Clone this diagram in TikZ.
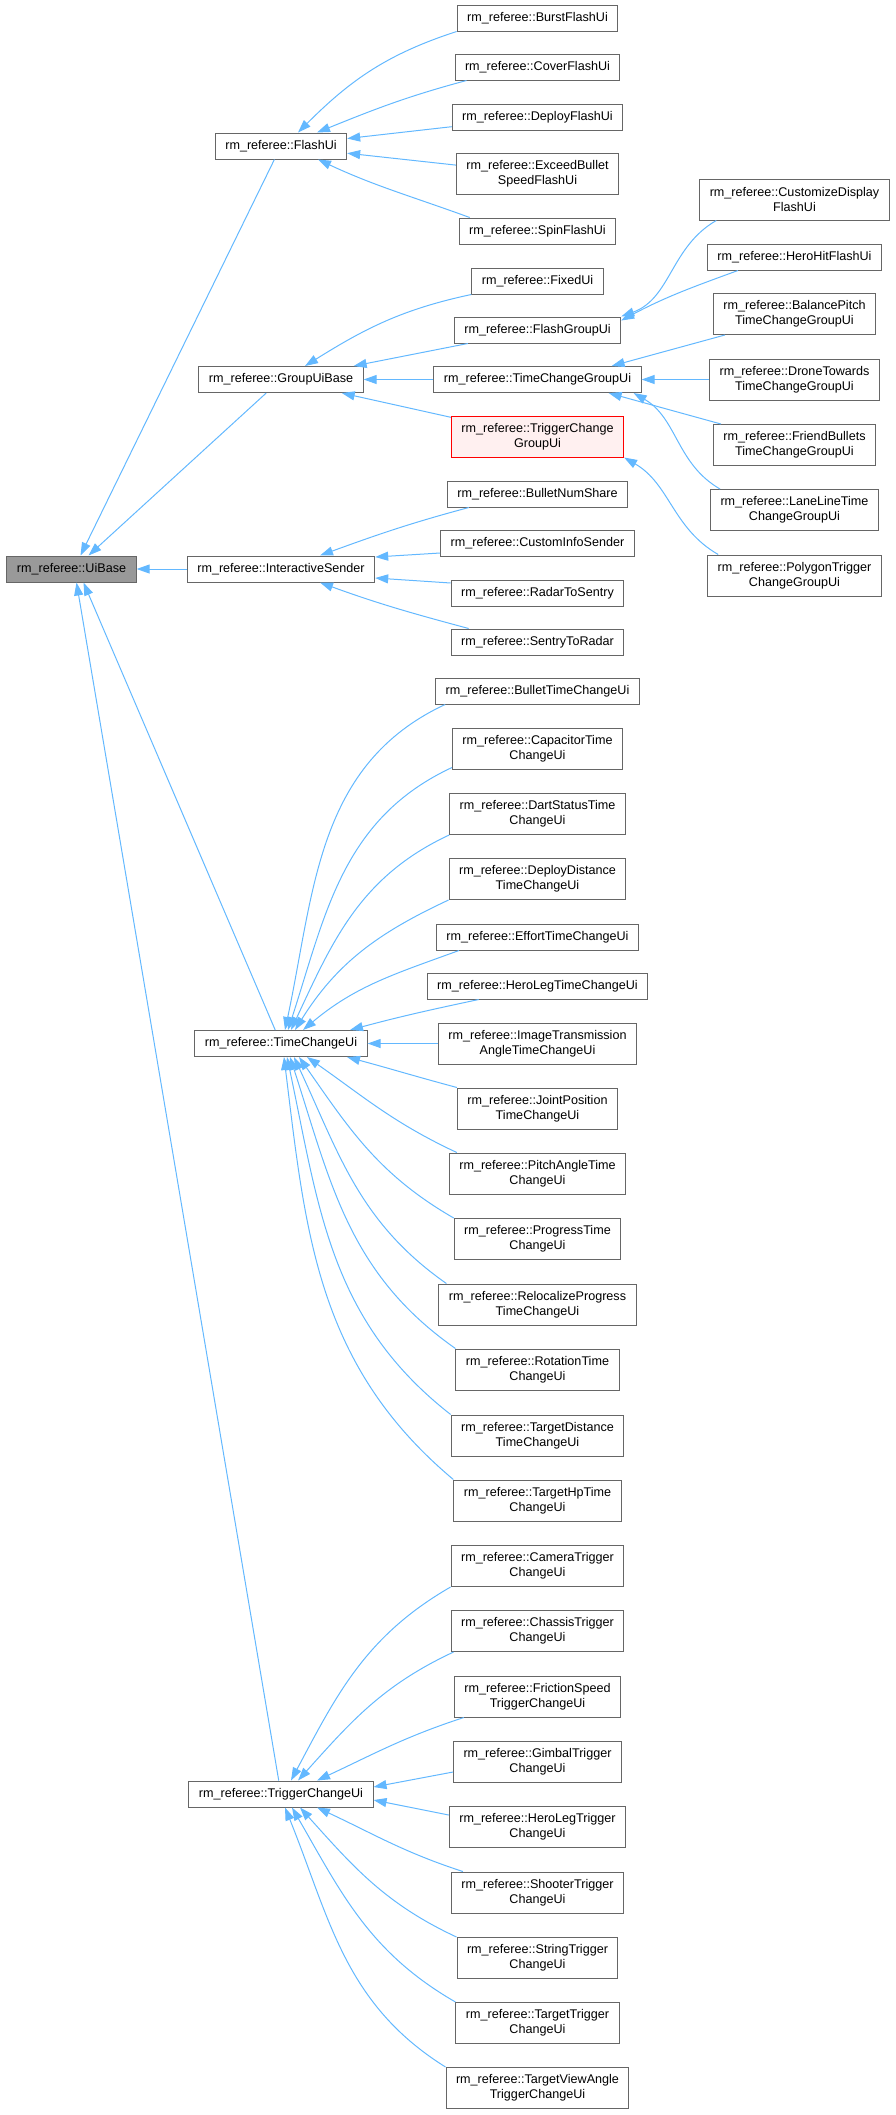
\documentclass[tikz,border=0pt]{standalone}
\usepackage{fontspec}
\setmainfont{Liberation Sans}
\usetikzlibrary{arrows.meta, positioning}
\definecolor{edgeblue}{RGB}{99,184,255}
\definecolor{boxgray}{RGB}{102,102,102}
\definecolor{basegray}{RGB}{153,153,153}
\definecolor{hilitered}{RGB}{255,0,0}
\definecolor{hilitefill}{RGB}{255,240,240}

\begin{document}
\begin{tikzpicture}[x=1pt, y=1pt,
    cls/.style={rectangle, draw=boxgray, fill=white, line width=1pt,
        inner xsep=10pt, inner ysep=2pt, minimum height=26pt, align=center,
        font=\fontsize{12.6}{15}\selectfont},
    cls2/.style={cls, minimum height=41pt},
    hilite/.style={draw=hilitered, fill=hilitefill},
    inh/.style={-{Triangle[length=13pt, width=9pt]}, edgeblue, line width=1pt}
]
\useasboundingbox (0,0) rectangle (896,-2115);

% Base class
\node[cls, fill=basegray] (ub) at (71.5,-569) {rm\_referee::UiBase};

% First level
\node[cls] (flash) at (281,-146) {rm\_referee::FlashUi};
\node[cls] (gub) at (281,-379.5) {rm\_referee::GroupUiBase};
\node[cls] (isend) at (281,-569) {rm\_referee::InteractiveSender};
\node[cls] (tcu) at (281,-1043.5) {rm\_referee::TimeChangeUi};
\node[cls] (tgu) at (281,-1794) {rm\_referee::TriggerChangeUi};

% Second level: flash and group classes
\node[cls] (burst) at (537.5,-18) {rm\_referee::BurstFlashUi};
\node[cls] (cover) at (537.5,-67) {rm\_referee::CoverFlashUi};
\node[cls] (deploy) at (537.5,-117) {rm\_referee::DeployFlashUi};
\node[cls2] (exceed) at (537.5,-174) {rm\_referee::ExceedBullet\\SpeedFlashUi};
\node[cls] (spin) at (537.5,-231) {rm\_referee::SpinFlashUi};
\node[cls] (fixed) at (537.5,-281) {rm\_referee::FixedUi};
\node[cls] (fgroup) at (537.5,-330) {rm\_referee::FlashGroupUi};
\node[cls] (tcgroup) at (537.5,-379.5) {rm\_referee::TimeChangeGroupUi};
\node[cls2, hilite] (tggroup) at (537.5,-436.5) {rm\_referee::TriggerChange\\GroupUi};

% Second level: senders
\node[cls] (bns) at (537.5,-494) {rm\_referee::BulletNumShare};
\node[cls] (cis) at (537.5,-543) {rm\_referee::CustomInfoSender};
\node[cls] (r2s) at (537.5,-593) {rm\_referee::RadarToSentry};
\node[cls] (s2r) at (537.5,-642) {rm\_referee::SentryToRadar};

% Second level: time change classes
\node[cls] (tcBullet) at (537.5,-691) {rm\_referee::BulletTimeChangeUi};
\node[cls2] (tcCap) at (537.5,-748.5) {rm\_referee::CapacitorTime\\ChangeUi};
\node[cls2] (tcDart) at (537.5,-814) {rm\_referee::DartStatusTime\\ChangeUi};
\node[cls2] (tcDeploy) at (537.5,-879) {rm\_referee::DeployDistance\\TimeChangeUi};
\node[cls] (tcEffort) at (537.5,-937) {rm\_referee::EffortTimeChangeUi};
\node[cls] (tcHero) at (537.5,-986) {rm\_referee::HeroLegTimeChangeUi};
\node[cls2] (tcImage) at (537.5,-1043.5) {rm\_referee::ImageTransmission\\AngleTimeChangeUi};
\node[cls2] (tcJoint) at (537.5,-1108.5) {rm\_referee::JointPosition\\TimeChangeUi};
\node[cls2] (tcPitch) at (537.5,-1173.5) {rm\_referee::PitchAngleTime\\ChangeUi};
\node[cls2] (tcProg) at (537.5,-1239) {rm\_referee::ProgressTime\\ChangeUi};
\node[cls2] (tcReloc) at (537.5,-1304.5) {rm\_referee::RelocalizeProgress\\TimeChangeUi};
\node[cls2] (tcRot) at (537.5,-1369.5) {rm\_referee::RotationTime\\ChangeUi};
\node[cls2] (tcDist) at (537.5,-1435.5) {rm\_referee::TargetDistance\\TimeChangeUi};
\node[cls2] (tcHp) at (537.5,-1500.5) {rm\_referee::TargetHpTime\\ChangeUi};

% Second level: trigger change classes
\node[cls2] (tgCam) at (537.5,-1566) {rm\_referee::CameraTrigger\\ChangeUi};
\node[cls2] (tgChas) at (537.5,-1631) {rm\_referee::ChassisTrigger\\ChangeUi};
\node[cls2] (tgFric) at (537.5,-1696.5) {rm\_referee::FrictionSpeed\\TriggerChangeUi};
\node[cls2] (tgGimb) at (537.5,-1762) {rm\_referee::GimbalTrigger\\ChangeUi};
\node[cls2] (tgHero) at (537.5,-1827) {rm\_referee::HeroLegTrigger\\ChangeUi};
\node[cls2] (tgShoot) at (537.5,-1892.5) {rm\_referee::ShooterTrigger\\ChangeUi};
\node[cls2] (tgStr) at (537.5,-1958) {rm\_referee::StringTrigger\\ChangeUi};
\node[cls2] (tgTgt) at (537.5,-2023) {rm\_referee::TargetTrigger\\ChangeUi};
\node[cls2] (tgView) at (537.5,-2088) {rm\_referee::TargetViewAngle\\TriggerChangeUi};

% Third level
\node[cls2] (custd) at (794.5,-199.5) {rm\_referee::CustomizeDisplay\\FlashUi};
\node[cls] (herohit) at (794.5,-257) {rm\_referee::HeroHitFlashUi};
\node[cls2] (balance) at (794.5,-314) {rm\_referee::BalancePitch\\TimeChangeGroupUi};
\node[cls2] (drone) at (794.5,-379.5) {rm\_referee::DroneTowards\\TimeChangeGroupUi};
\node[cls2] (friend) at (794.5,-445) {rm\_referee::FriendBullets\\TimeChangeGroupUi};
\node[cls2] (lane) at (794.5,-510) {rm\_referee::LaneLineTime\\ChangeGroupUi};
\node[cls2] (polygon) at (794.5,-575.5) {rm\_referee::PolygonTrigger\\ChangeGroupUi};

% Inheritance edges to UiBase
\draw[inh] (flash) -- ([xshift=9pt]ub.north);
\draw[inh] (gub) -- ([xshift=17pt]ub.north);
\draw[inh] (isend) -- (ub);
\draw[inh] (tcu) -- ([xshift=12pt]ub.south);
\draw[inh] (tgu) -- ([xshift=5pt]ub.south);

% FlashUi
\draw[inh] (burst.south west) to[out=198, in=45] ([xshift=17pt]flash.north);
\draw[inh] ([xshift=12pt]cover.south west) to[out=195, in=22] ([xshift=36pt]flash.north);
\draw[inh] (deploy) -- (flash);
\draw[inh] (exceed) -- (flash);
\draw[inh] ([xshift=11pt]spin.north west) to[out=160, in=-25] ([xshift=37pt]flash.south);

% GroupUiBase
\draw[inh] (fixed.south west) to[out=192, in=32] ([xshift=24pt]gub.north);
\draw[inh] ([xshift=14pt]fgroup.south west) -- ([xshift=-10pt]gub.north east);
\draw[inh] (tcgroup) -- (gub);
\draw[inh] (tggroup) -- (gub);

% FlashGroupUi
\draw[inh] ([xshift=17pt]custd.south west) to[out=210, in=20] (fgroup.north east);
\draw[inh] ([xshift=31pt]herohit.south west) to[out=200, in=28] ([yshift=-4pt]fgroup.north east);

% TimeChangeGroupUi and TriggerChangeGroupUi
\draw[inh] ([xshift=12pt]balance.south west) -- ([xshift=-30pt]tcgroup.north east);
\draw[inh] (drone) -- (tcgroup);
\draw[inh] ([xshift=8pt]friend.north west) -- ([xshift=-33pt]tcgroup.south east);
\draw[inh] ([xshift=10pt]lane.north west) to[out=150, in=-30] ([xshift=-8pt]tcgroup.south east);
\draw[inh] ([xshift=11pt]polygon.north west) to[out=150, in=-30] (tggroup.south east);

% InteractiveSender
\draw[inh] ([xshift=22pt]bns.south west) to[out=195, in=20] ([xshift=39pt]isend.north);
\draw[inh] ([yshift=-10pt]cis.west) -- ([yshift=12pt]isend.east);
\draw[inh] ([yshift=10pt]r2s.west) -- ([yshift=-9pt]isend.east);
\draw[inh] ([xshift=18pt]s2r.north west) to[out=165, in=-20] ([xshift=39pt]isend.south);

% TimeChangeUi
\draw[inh] ([xshift=10pt]tcBullet.south west) to[out=205, in=78] ([xshift=4pt]tcu.north);
\draw[inh] ([yshift=2pt]tcCap.south west) to[out=205, in=72] ([xshift=7pt]tcu.north);
\draw[inh] (tcDart.south west) to[out=205, in=65] ([xshift=10pt]tcu.north);
\draw[inh] (tcDeploy.south west) to[out=205, in=58] ([xshift=14pt]tcu.north);
\draw[inh] ([xshift=23pt]tcEffort.south west) to[out=200, in=40] ([xshift=22pt]tcu.north);
\draw[inh] ([xshift=52pt]tcHero.south west) to[out=192, in=15] ([xshift=69pt]tcu.north);
\draw[inh] (tcImage) -- (tcu);
\draw[inh] (tcJoint.north west) to[out=165, in=-15] ([xshift=66pt]tcu.south);
\draw[inh] ([xshift=8pt]tcPitch.north west) to[out=155, in=-35] ([xshift=26pt]tcu.south);
\draw[inh] (tcProg.north west) to[out=150, in=-55] ([xshift=18pt]tcu.south);
\draw[inh] ([xshift=8pt]tcReloc.north west) to[out=145, in=-65] ([xshift=13pt]tcu.south);
\draw[inh] (tcRot.north west) to[out=145, in=-72] ([xshift=9pt]tcu.south);
\draw[inh] (tcDist.north west) to[out=142, in=-78] ([xshift=6pt]tcu.south);
\draw[inh] (tcHp.north west) to[out=140, in=-83] ([xshift=3pt]tcu.south);

% TriggerChangeUi
\draw[inh] (tgCam.south west) to[out=210, in=62] ([xshift=10pt]tgu.north);
\draw[inh] ([xshift=3pt]tgChas.south west) to[out=205, in=48] ([xshift=17pt]tgu.north);
\draw[inh] ([xshift=10pt]tgFric.south west) to[out=198, in=25] ([xshift=36pt]tgu.north);
\draw[inh] ([yshift=-10pt]tgGimb.west) -- ([yshift=7pt]tgu.east);
\draw[inh] ([yshift=12pt]tgHero.west) -- ([yshift=-6pt]tgu.east);
\draw[inh] ([xshift=12pt]tgShoot.north west) to[out=162, in=-25] ([xshift=36pt]tgu.south);
\draw[inh] (tgStr.north west) to[out=155, in=-48] ([xshift=19pt]tgu.south);
\draw[inh] (tgTgt.north west) to[out=150, in=-60] ([xshift=11pt]tgu.south);
\draw[inh] (tgView.north west) to[out=148, in=-68] ([xshift=4pt]tgu.south);

\end{tikzpicture}
\end{document}
